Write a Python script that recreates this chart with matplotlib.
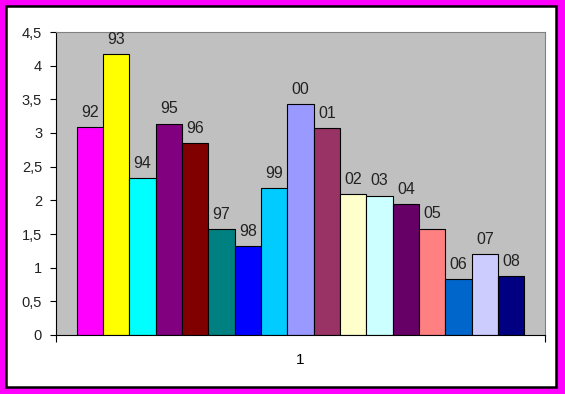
import matplotlib.pyplot as plt
from matplotlib.patches import Rectangle
import numpy as np

plt.rcParams['font.family'] = ['Liberation Sans', 'DejaVu Sans']

years = ['92', '93', '94', '95', '96', '97', '98', '99', '00', '01',
         '02', '03', '04', '05', '06', '07', '08']
values = [3.09, 4.17, 2.33, 3.14, 2.85, 1.57, 1.32, 2.18, 3.43, 3.07,
          2.09, 2.07, 1.94, 1.58, 0.83, 1.20, 0.87]
colors = ['#FF00FF', '#FFFF00', '#00FFFF', '#800080', '#800000', '#008080',
          '#0000FF', '#00CCFF', '#9999FF', '#993366', '#FFFFCC', '#CCFFFF',
          '#660066', '#FF8080', '#0066CC', '#CCCCFF', '#000080']
yticks = [0, 0.5, 1, 1.5, 2, 2.5, 3, 3.5, 4, 4.5]
ytick_labels = ['0', '0,5', '1', '1,5', '2', '2,5', '3', '3,5', '4', '4,5']
category = '1'

fig = plt.figure(figsize=(5.65, 3.94), dpi=100, facecolor='#FF00FF')
# white chart area with black frame inside the magenta border
frame = Rectangle((6 / 565, 7 / 394), 550 / 565, 381 / 394,
                  transform=fig.transFigure, facecolor='white',
                  edgecolor='black', linewidth=1.8, zorder=-10)
fig.add_artist(frame)

ax = fig.add_axes([56 / 565, 59 / 394, 489 / 565, 303 / 394])
ax.set_zorder(5)
ax.set_facecolor('#C0C0C0')

n = len(values)
group = 0.916
w = group / n
x = -group / 2 + (np.arange(n) + 0.5) * w
ax.bar(x, values, width=w, color=colors, edgecolor='black', linewidth=0.8, zorder=2)

for xi, v, lab in zip(x, values, years):
    ax.annotate(lab, (xi, v), xytext=(0, 7.5), textcoords='offset points',
                ha='center', va='baseline', fontsize=11.5, color='#222222')

ax.set_xlim(-0.5, 0.5)
ax.set_ylim(0, 4.5)
ax.set_yticks(yticks)
ax.set_yticklabels(ytick_labels)
ax.set_xticks([0])
ax.set_xticklabels([category])
ax.set_xticks([-0.5, 0.5], minor=True)
ax.tick_params(axis='x', which='major', length=0, pad=13, labelsize=11)
ax.tick_params(axis='x', which='minor', length=5, direction='out', width=0.8)
ax.tick_params(axis='y', length=4, direction='out', width=0.8, pad=6, labelsize=10.5,
               labelcolor='#222222')

for s in ['top', 'right']:
    ax.spines[s].set_color('#808080')
    ax.spines[s].set_linewidth(0.8)
for s in ['left', 'bottom']:
    ax.spines[s].set_color('black')
    ax.spines[s].set_linewidth(0.8)

fig.savefig('out.png', dpi=100, facecolor=fig.get_facecolor())
